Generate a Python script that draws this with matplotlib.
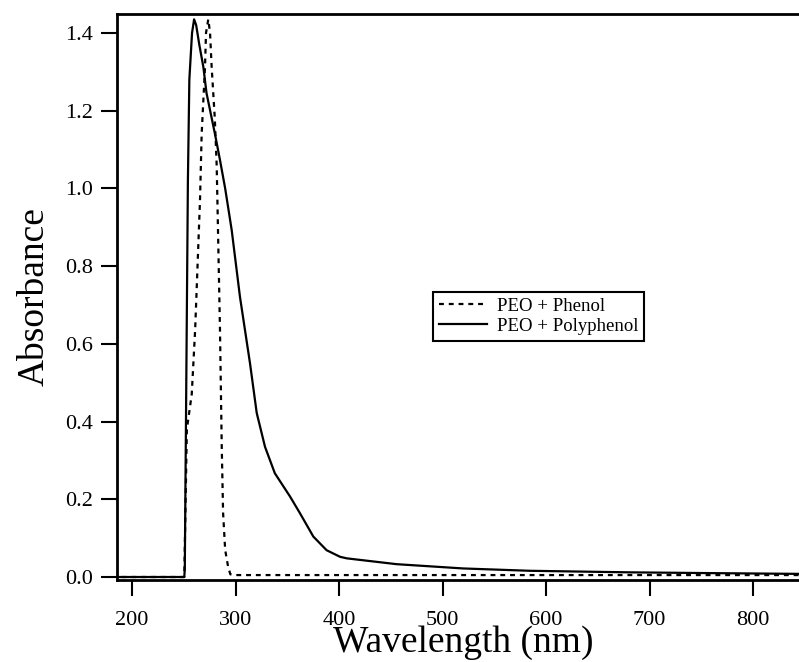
import numpy as np
import matplotlib
matplotlib.use("Agg")
from matplotlib import pyplot as plt

plt.rcParams['font.family'] = ['Liberation Serif', 'DejaVu Serif']

# PEO + Phenol (dotted)
wl_phenol = [190, 250.5, 253, 257.7, 261, 265.7, 267.3, 270.5, 271.5, 273.7,
             275.4, 277, 280, 281.8, 282.5, 285, 286.7, 288, 290, 292.8, 295, 300, 848]
abs_phenol = [0.0, 0.0, 0.38, 0.47, 0.636, 0.97, 1.14, 1.31, 1.40, 1.435,
              1.40, 1.31, 1.18, 1.06, 0.97, 0.636, 0.335, 0.165, 0.07, 0.027, 0.007, 0.005, 0.005]

# PEO + Polyphenol (solid)
wl_poly = [186, 250.5, 251, 254, 255.4, 258, 260, 262, 265, 268.9, 272, 280, 285,
           290, 296.3, 304.3, 314, 320.5, 328.5, 338, 352.7, 362.3, 375.2, 388, 401,
           407.5, 455.7, 520, 584.5, 681, 760, 848]
abs_poly = [0.0, 0.0, 0.02, 1.02, 1.28, 1.40, 1.435, 1.42, 1.37, 1.313, 1.245, 1.142, 1.073,
            1.0, 0.893, 0.721, 0.55, 0.422, 0.335, 0.267, 0.207, 0.164, 0.104, 0.069, 0.052,
            0.048, 0.033, 0.022, 0.016, 0.012, 0.010, 0.008]

xticks = [200, 300, 400, 500, 600, 700, 800]
yticks = [0.0, 0.2, 0.4, 0.6, 0.8, 1.0, 1.2, 1.4]

fig = plt.figure(figsize=(7.99, 6.62), dpi=100)
ax = fig.add_axes([117 / 799, 82 / 662, 686 / 799, 566.5 / 662])

ax.plot(wl_phenol, abs_phenol, color='black', lw=1.6, linestyle=(0, (2.2, 2.2)),
        label='PEO + Phenol')
ax.plot(wl_poly, abs_poly, color='black', lw=1.6, label='PEO + Polyphenol')

ax.set_xlim(185.5, 848.3)
ax.set_ylim(-0.0077, 1.45)
ax.set_xticks(xticks)
ax.set_yticks(yticks)
ax.set_yticklabels(['%.1f' % v for v in yticks])

for s in ax.spines.values():
    s.set_linewidth(2.0)
ax.tick_params(direction='out', length=11.5, width=1.5, labelsize=16)
ax.tick_params(axis='x', pad=11)
ax.tick_params(axis='y', pad=6)

ax.set_xlabel('Wavelength (nm)', fontsize=27)
ax.xaxis.set_label_coords(0.505, -0.127)
ax.xaxis.label.set_va('baseline')
ax.set_ylabel('Absorbance', fontsize=27)
ax.yaxis.set_label_coords(-0.121, 0.5)
ax.yaxis.label.set_va('center')

leg = ax.legend(loc='upper left', bbox_to_anchor=(0.4606, 0.508), fontsize=13.5,
                frameon=True, fancybox=False, edgecolor='black', framealpha=1,
                handlelength=2.6, handletextpad=0.5, borderpad=0.3, labelspacing=0.15,
                borderaxespad=0)
leg.get_frame().set_linewidth(1.5)

fig.savefig('out.png', dpi=100)
